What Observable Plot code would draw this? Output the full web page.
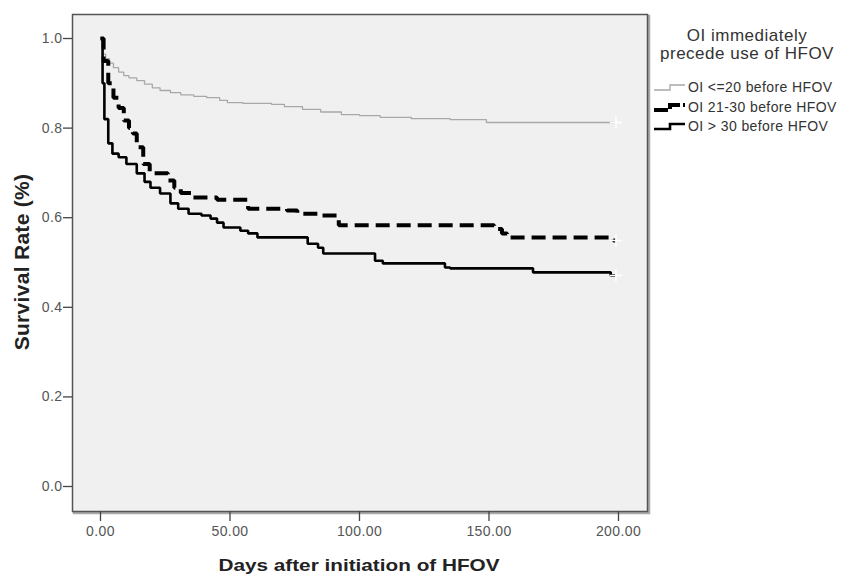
<!DOCTYPE html>
<html>
<head>
<meta charset="utf-8">
<script src="https://cdn.jsdelivr.net/npm/d3@7"></script>
<script src="https://cdn.jsdelivr.net/npm/@observablehq/plot@0.6"></script>
<style>
  html, body { margin: 0; padding: 0; background: #fff; }
  #wrap { position: relative; width: 842px; height: 578px; font-family: "Liberation Sans", Arial, sans-serif; }
  #wrap svg g[aria-label="x-axis tick label"], #wrap svg g[aria-label="y-axis tick label"] { fill: #555; letter-spacing: 0.4px; }
  #wrap svg g[aria-label="x-axis tick"], #wrap svg g[aria-label="y-axis tick"] { stroke: #444; stroke-width: 1.3px; }
  .title-x { position: absolute; left: 359px; top: 566px; transform: translate(-50%, -50%) scaleX(1.22); white-space: nowrap; font-weight: bold; font-size: 17px; color: #222; }
  .title-y { position: absolute; left: 22px; top: 262px; transform: translate(-50%, -50%) rotate(-90deg); white-space: nowrap; font-weight: bold; font-size: 21px; letter-spacing: 0.3px; color: #222; }
  .legend { position: absolute; left: 652px; top: 27px; width: 190px; color: #333; }
  .legend .lt { text-align: center; font-size: 17px; letter-spacing: 0.5px; line-height: 18px; margin-bottom: 14px; margin-left: 0px; }
  .legend .row { display: flex; align-items: center; height: 19.7px; font-size: 14px; letter-spacing: 0.4px; white-space: nowrap; }
  .legend svg { margin-right: 2px; flex: none; }
</style>
</head>
<body>
<div id="wrap"></div>
<script>
// ---- Data ----
const groups = ["OI <=20 before HFOV", "OI 21-30 before HFOV", "OI > 30 before HFOV"];
const legendTitle = ["OI immediately", "precede use of HFOV"];
const xTicks = [0, 50, 100, 150, 200];
const yTicks = [0, 0.2, 0.4, 0.6, 0.8, 1.0];

// [day, survival]
const survLow = [[0,1.0],[0.8,0.965],[2,0.955],[3.5,0.945],[5,0.935],[7,0.925],[9,0.917],[11,0.912],[14,0.906],[17,0.898],[20,0.89],[23,0.884],[27,0.879],[31,0.874],[36,0.871],[41,0.868],[46,0.862],[49,0.857],[55,0.855],[66,0.853],[71,0.848],[78,0.842],[85,0.836],[93,0.83],[100,0.828],[108,0.824],[120,0.821],[135,0.819],[149,0.8125],[199,0.8125]];
const survMid = [[0,1.0],[1.2,0.95],[3,0.90],[5,0.868],[7,0.845],[9,0.817],[11,0.80],[12.5,0.788],[14,0.757],[16.5,0.72],[19,0.699],[26,0.683],[28.5,0.667],[31,0.655],[35,0.645],[45,0.64],[57,0.62],[72,0.616],[76,0.609],[84,0.605],[92,0.583],[152,0.575],[155,0.565],[157,0.556],[198,0.549],[199,0.549]];
const survHigh = [[0,1.0],[0.8,0.9],[1.5,0.82],[3,0.766],[4.6,0.743],[7,0.735],[10,0.72],[14,0.699],[17,0.68],[19.3,0.667],[23,0.654],[27,0.632],[30,0.62],[34,0.609],[39,0.605],[42.5,0.598],[45,0.589],[47.5,0.578],[54,0.571],[57,0.565],[60.6,0.556],[80,0.542],[84,0.533],[86,0.52],[106,0.504],[109,0.498],[133,0.489],[135,0.487],[167,0.478],[197,0.471],[199,0.471]];

const series = [survLow, survMid, survHigh];
const styles = [
  {stroke: "#a8a8a8", strokeWidth: 1.3, dash: null},
  {stroke: "#000", strokeWidth: 4, dash: "14,7"},
  {stroke: "#000", strokeWidth: 2.6, dash: null}
];

const rows = series.map((s, i) => s.map(([day, surv]) => ({group: groups[i], day, surv})));
const ends = series.map((s, i) => ({group: groups[i], day: s[s.length - 1][0], surv: s[s.length - 1][1]}));

const lineMarks = rows.map((r, i) => Plot.line(r, {
  x: "day", y: "surv", curve: "step-after",
  stroke: styles[i].stroke, strokeWidth: styles[i].strokeWidth,
  strokeDasharray: styles[i].dash, strokeLinejoin: "miter", strokeLinecap: "butt"
}));

const plot = Plot.plot({
  width: 842, height: 578,
  marginLeft: 72, marginRight: 195, marginTop: 14, marginBottom: 67,
  style: {fontFamily: "Liberation Sans, Arial, sans-serif", fontSize: "14px", background: "white", overflow: "visible"},
  x: {domain: [-10.81, 211.2]},
  y: {domain: [-0.0558, 1.0536]},
  marks: [
    Plot.frame({stroke: "#aaa", strokeWidth: 2.5, dx: 1.5, dy: 1.5}),
    Plot.frame({fill: "#f0f0f0", stroke: "#555", strokeWidth: 1.5}),
    ...lineMarks,
    Plot.dot(ends, {x: "day", y: "surv", symbol: "plus", stroke: "white", r: 4, strokeWidth: 1.5}),
    Plot.axisX({ticks: xTicks, tickFormat: d3.format(".2f"), tickSize: 10, tickPadding: 5, label: null, fontSize: 14}),
    Plot.axisY({ticks: yTicks, tickFormat: d3.format(".1f"), tickSize: 9, tickPadding: 1, label: null, fontSize: 14})
  ]
});

const wrap = document.getElementById("wrap");
wrap.appendChild(plot);

const tx = document.createElement("div");
tx.className = "title-x";
tx.textContent = "Days after initiation of HFOV";
wrap.appendChild(tx);

const ty = document.createElement("div");
ty.className = "title-y";
ty.textContent = "Survival Rate (%)";
wrap.appendChild(ty);

// Legend
const lg = document.createElement("div");
lg.className = "legend";
const lt = document.createElement("div");
lt.className = "lt";
lt.innerHTML = legendTitle.join("<br>");
lg.appendChild(lt);
groups.forEach((g, i) => {
  const row = document.createElement("div");
  row.className = "row";
  const st = styles[i];
  const sw = st.strokeWidth;
  const dash = st.dash ? ` stroke-dasharray="14,3"` : "";
  row.innerHTML = `<svg width="34" height="14"><path d="M2,10 H18 V5 H33" fill="none" stroke="${st.stroke}" stroke-width="${sw}"${dash}/></svg><span>${g}</span>`;
  lg.appendChild(row);
});
wrap.appendChild(lg);
</script>
</body>
</html>
